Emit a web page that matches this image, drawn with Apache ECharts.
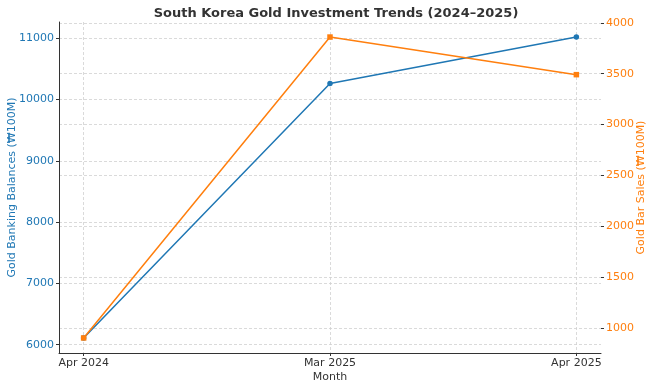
<!DOCTYPE html>
<html><head><meta charset="utf-8">
<script src="https://cdn.jsdelivr.net/npm/echarts@6/dist/echarts.min.js"></script>
<style>html,body{margin:0;padding:0;background:#fff}#c{width:655px;height:390px}</style>
</head><body><div id="c"></div>
<script>
const months = ['Apr 2024', 'Mar 2025', 'Apr 2025'];
const goldBanking = [6110, 10260, 11020];
const goldBarSales = [900, 3860, 3490];
const leftTicks = [6000, 7000, 8000, 9000, 10000, 11000];
const rightTicks = [1000, 1500, 2000, 2500, 3000, 3500, 4000];
const xTicks = [0, 1, 2];

const FONT = 'DejaVu Sans';
const BLUE = '#1f77b4', ORANGE = '#ff7f0e';
const gridStyle = {show: true, lineStyle: {color: '#d0d0d0', type: [3, 2], width: 0.8}};

const chart = echarts.init(document.getElementById('c'), null, {renderer: 'canvas'});
chart.setOption({
  animation: false,
  textStyle: {fontFamily: FONT},
  title: {text: 'South Korea Gold Investment Trends (2024\u20132025)', left: 331, textAlign: 'center', top: 2,
    textStyle: {fontFamily: FONT, fontSize: 13, fontWeight: 'bold', color: '#333'}},
  grid: {left: 59, right: 54, top: 22, bottom: 37, containLabel: false, outerBoundsMode: 'none'},
  xAxis: {
    type: 'value', min: -0.1, max: 2.1,
    name: 'Month', nameLocation: 'middle', nameGap: 19, nameMoveOverlap: false,
    nameTextStyle: {fontFamily: FONT, fontSize: 11, color: '#333'},
    axisLine: {show: true, onZero: false, lineStyle: {color: '#333', width: 1}},
    axisTick: {show: true, customValues: xTicks, length: 3, lineStyle: {color: '#333'}},
    axisLabel: {customValues: xTicks, formatter: v => months[Math.round(v)] || '', fontFamily: FONT, fontSize: 11, color: '#333', margin: 5},
    splitLine: gridStyle
  },
  yAxis: [{
    type: 'value', min: 5864, max: 11265, position: 'left',
    name: 'Gold Banking Balances (\u20a9100M)', nameLocation: 'middle', nameGap: 41, nameRotate: 90, nameMoveOverlap: false,
    nameTextStyle: {fontFamily: FONT, fontSize: 11, color: BLUE},
    axisLine: {show: true, onZero: false, lineStyle: {color: '#333', width: 1}},
    axisTick: {show: true, customValues: leftTicks, length: 3, lineStyle: {color: '#333'}},
    axisLabel: {customValues: leftTicks, formatter: v => String(v), fontFamily: FONT, fontSize: 11, color: BLUE, margin: 5},
    splitLine: gridStyle
  }, {
    type: 'value', min: 752, max: 4008, position: 'right',
    name: 'Gold Bar Sales (\u20a9100M)', nameLocation: 'middle', nameGap: 35, nameRotate: 90, nameMoveOverlap: false,
    nameTextStyle: {fontFamily: FONT, fontSize: 11, color: ORANGE},
    axisLine: {show: false, onZero: false},
    axisTick: {show: true, customValues: rightTicks, length: 3, lineStyle: {color: '#333'}},
    axisLabel: {customValues: rightTicks, formatter: v => String(v), fontFamily: FONT, fontSize: 11, color: ORANGE, margin: 5},
    splitLine: gridStyle
  }],
  series: [{
    type: 'line', yAxisIndex: 0, name: 'Gold Banking Balances',
    data: goldBanking.map((v, i) => [xTicks[i], v]),
    symbol: 'circle', symbolSize: 5.5,
    lineStyle: {color: BLUE, width: 1.5}, itemStyle: {color: BLUE}
  }, {
    type: 'line', yAxisIndex: 1, name: 'Gold Bar Sales',
    data: goldBarSales.map((v, i) => [xTicks[i], v]),
    symbol: 'rect', symbolSize: 5.5,
    lineStyle: {color: ORANGE, width: 1.5}, itemStyle: {color: ORANGE}
  }]
});
</script></body></html>
